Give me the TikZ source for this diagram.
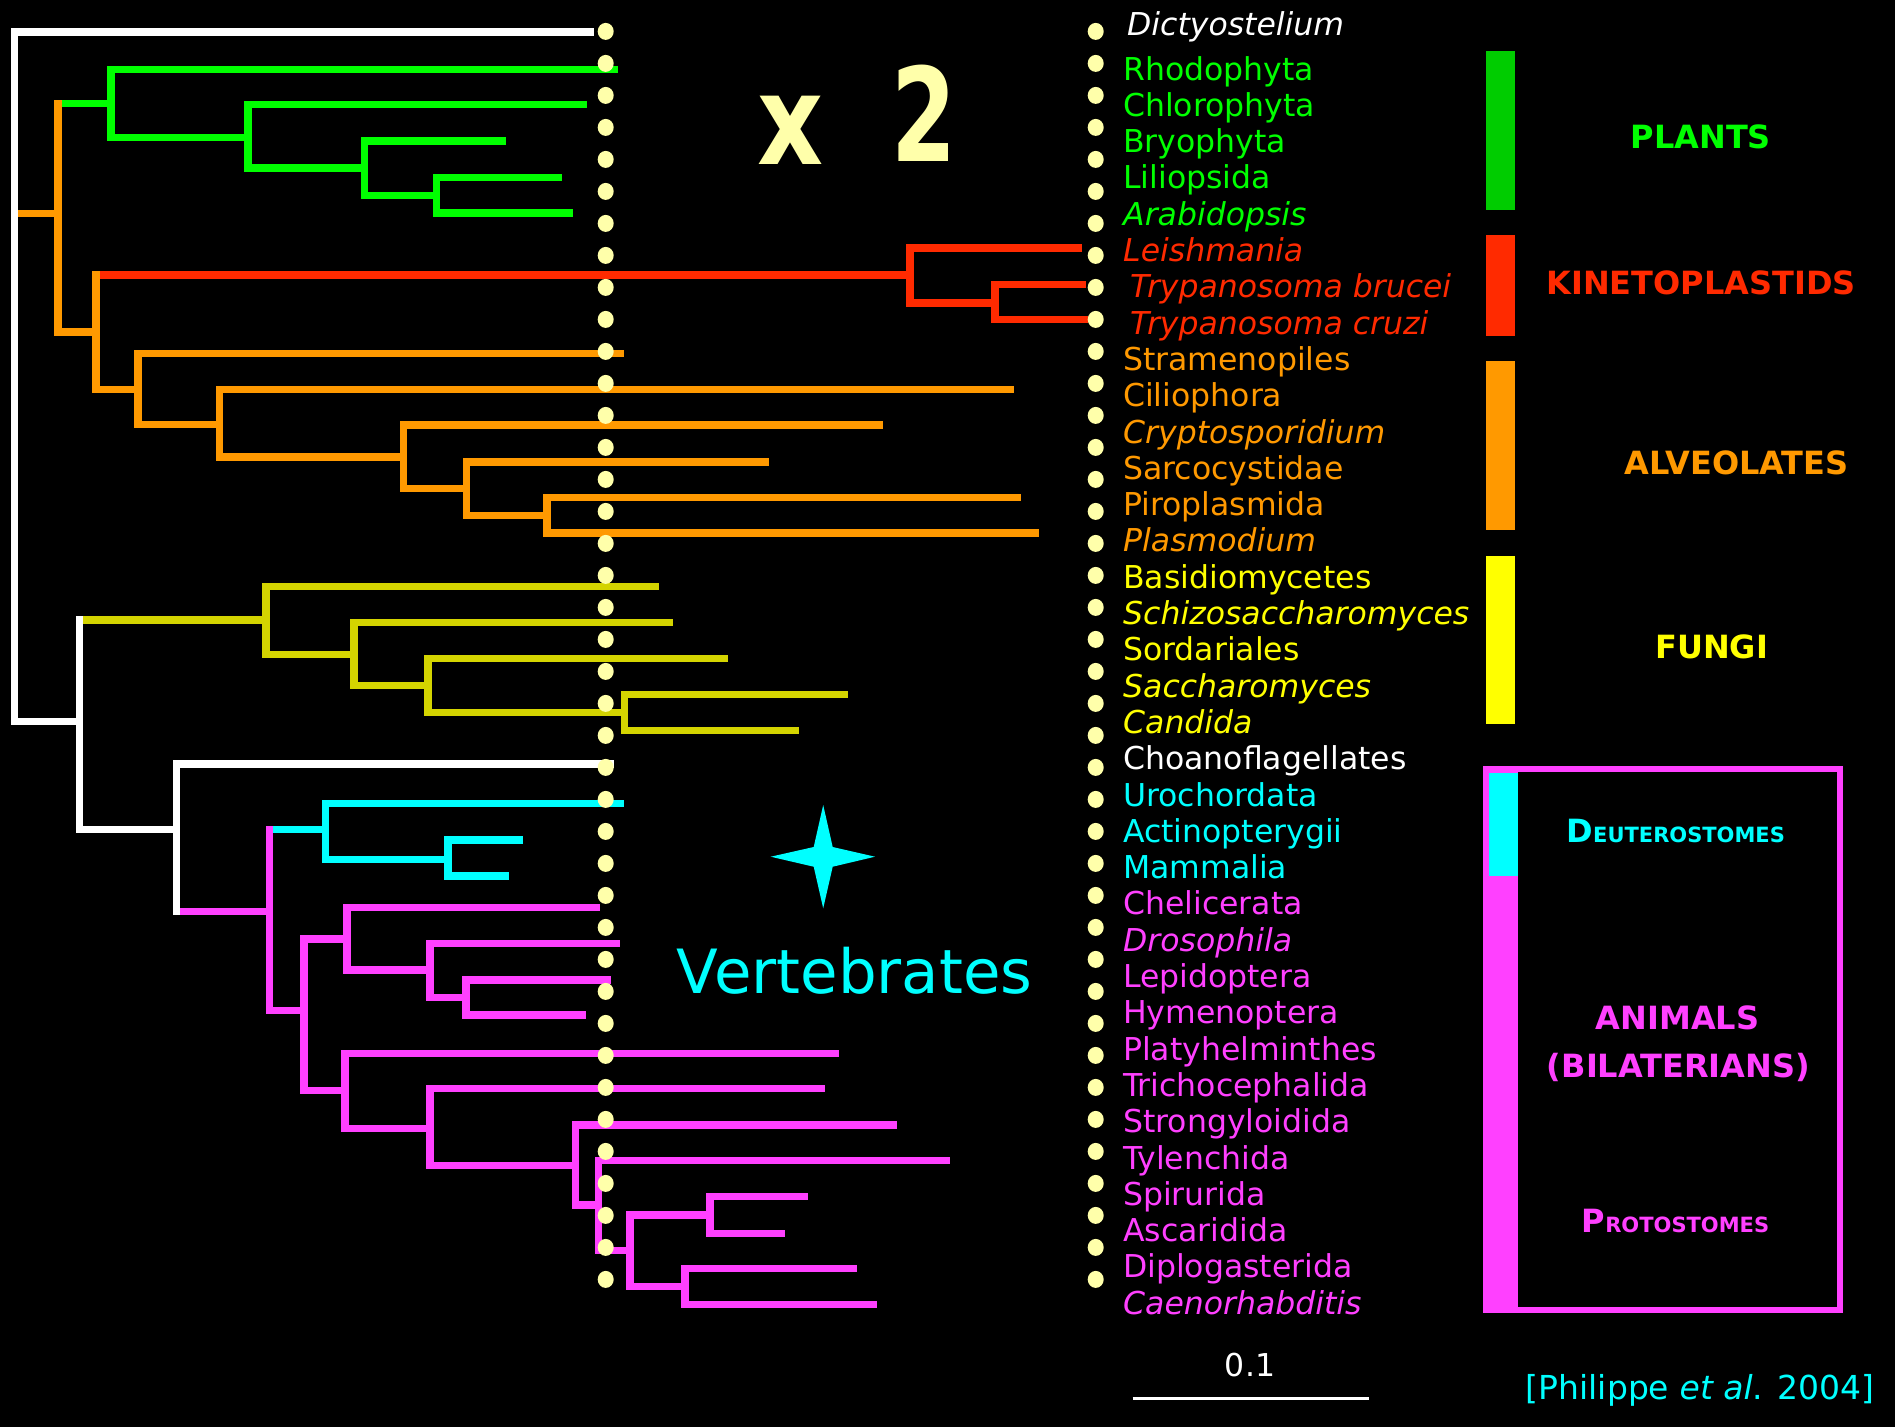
\documentclass[tikz,border=0pt]{standalone}
\usepackage{fontspec}
\usepackage{graphicx}
\setmainfont{DejaVu Sans}
\definecolor{colW}{HTML}{FFFFFF}
\definecolor{colG}{HTML}{00FF00}
\definecolor{colGbar}{HTML}{00CC00}
\definecolor{colR}{HTML}{FF2A00}
\definecolor{colO}{HTML}{FF9900}
\definecolor{colOl}{HTML}{D4D400}
\definecolor{colY}{HTML}{FFFF00}
\definecolor{colC}{HTML}{00FFFF}
\definecolor{colM}{HTML}{FF40FF}
\definecolor{colDot}{HTML}{FFFFAA}
\newcommand{\hbr}[3]{\draw[br,#1] (#2 |- #3) -- (#3);}
\newcommand{\vbr}[4]{\draw[vb,#1] (#2 |- #3) -- (#2 |- #4);}
\begin{document}
\begin{tikzpicture}[x=1pt,y=-1pt,
  br/.style={line width=7.5pt},
  vb/.style={line width=7.5pt, line cap=rect},
  lab/.style={anchor=base west, inner sep=0pt, font=\fontsize{31.5}{36}\selectfont},
  grp/.style={inner sep=0pt, font=\fontsize{32}{36}\selectfont\bfseries},
]
\fill[black] (0,0) rectangle (1895,1427);
\useasboundingbox (0,0) rectangle (1895,1427);

% ---------- internal nodes ----------
\coordinate (R) at (14.3,32.1);
\coordinate (A1) at (58,213.6);
\coordinate (G1) at (111,103.6);
\coordinate (G2) at (248,137.5);
\coordinate (G3) at (364.5,167.9);
\coordinate (G4) at (436.7,195.7);
\coordinate (A2) at (96,332);
\coordinate (K1) at (910,275);
\coordinate (K2) at (995,303);
\coordinate (A3) at (138,389.3);
\coordinate (A4) at (219.6,424.3);
\coordinate (A5) at (403.3,457);
\coordinate (A6) at (466.5,488.6);
\coordinate (A7) at (547,515.4);
\coordinate (W2) at (79.6,721.7);
\coordinate (F1) at (266,620);
\coordinate (F2) at (353.9,654.3);
\coordinate (F3) at (427.8,685.7);
\coordinate (F4) at (624.3,712.7);
\coordinate (W3) at (176.3,829.3);
\coordinate (M1) at (269.4,911.7);
\coordinate (C1) at (325.3,829.3);
\coordinate (C2) at (448.2,859.3);
\coordinate (M2) at (304,1010.7);
\coordinate (M3) at (347,939);
\coordinate (M4) at (429.8,970);
\coordinate (M5) at (466,997.3);
\coordinate (M6) at (345,1090.7);
\coordinate (M7) at (429.8,1128.3);
\coordinate (M8) at (575.5,1165.7);
\coordinate (M9) at (598.6,1205);
\coordinate (M10) at (630,1250.7);
\coordinate (M11) at (710,1215);
\coordinate (M12) at (685,1286.7);

% ---------- tips ----------
\coordinate (Dicty) at (594,32.1);
\coordinate (Rhodo) at (618,69.6);
\coordinate (Chloro) at (586.5,104.6);
\coordinate (Bryo) at (506,141);
\coordinate (Lilio) at (562,177.5);
\coordinate (Arab) at (573,213.2);
\coordinate (Leish) at (1082,248);
\coordinate (Tbru) at (1086,284.6);
\coordinate (Tcru) at (1088,319.6);
\coordinate (Stram) at (623.7,353.6);
\coordinate (Cilio) at (1014,389.3);
\coordinate (Crypto) at (882.9,425);
\coordinate (Sarco) at (769,461.8);
\coordinate (Piro) at (1020.7,497.5);
\coordinate (Plasmo) at (1038.6,533.2);
\coordinate (Basid) at (659.3,586.7);
\coordinate (Schizo) at (672.5,622.7);
\coordinate (Sord) at (727.9,658.3);
\coordinate (Sacch) at (847.5,694.3);
\coordinate (Cand) at (799.3,730.7);
\coordinate (Choano) at (614.3,764);
\coordinate (Uro) at (623.7,803.3);
\coordinate (Actino) at (523.3,840);
\coordinate (Mamm) at (509,876);
\coordinate (Chel) at (600,907.7);
\coordinate (Droso) at (620.4,943.3);
\coordinate (Lepi) at (611,980);
\coordinate (Hymen) at (585.7,1015);
\coordinate (Platy) at (838.6,1053.3);
\coordinate (Tricho) at (825.4,1088.7);
\coordinate (Strongy) at (896.8,1125);
\coordinate (Tylen) at (950.4,1160.7);
\coordinate (Spiru) at (807.9,1196.7);
\coordinate (Ascar) at (785,1233.3);
\coordinate (Diplo) at (857,1268.7);
\coordinate (Caeno) at (877,1304.7);

% ---------- horizontal branches ----------
\hbr{colW}{R}{Dicty} \hbr{colO}{R}{A1} \hbr{colW}{R}{W2}
\hbr{colG}{A1}{G1} \hbr{colO}{A1}{A2}
\hbr{colG}{G1}{Rhodo} \hbr{colG}{G1}{G2}
\hbr{colG}{G2}{Chloro} \hbr{colG}{G2}{G3}
\hbr{colG}{G3}{Bryo} \hbr{colG}{G3}{G4}
\hbr{colG}{G4}{Lilio} \hbr{colG}{G4}{Arab}
\hbr{colR}{A2}{K1} \hbr{colO}{A2}{A3}
\hbr{colR}{K1}{Leish} \hbr{colR}{K1}{K2}
\hbr{colR}{K2}{Tbru} \hbr{colR}{K2}{Tcru}
\hbr{colO}{A3}{Stram} \hbr{colO}{A3}{A4}
\hbr{colO}{A4}{Cilio} \hbr{colO}{A4}{A5}
\hbr{colO}{A5}{Crypto} \hbr{colO}{A5}{A6}
\hbr{colO}{A6}{Sarco} \hbr{colO}{A6}{A7}
\hbr{colO}{A7}{Piro} \hbr{colO}{A7}{Plasmo}
\hbr{colOl}{W2}{F1} \hbr{colW}{W2}{W3}
\hbr{colOl}{F1}{Basid} \hbr{colOl}{F1}{F2}
\hbr{colOl}{F2}{Schizo} \hbr{colOl}{F2}{F3}
\hbr{colOl}{F3}{Sord} \hbr{colOl}{F3}{F4}
\hbr{colOl}{F4}{Sacch} \hbr{colOl}{F4}{Cand}
\hbr{colW}{W3}{Choano} \hbr{colM}{W3}{M1}
\hbr{colC}{M1}{C1} \hbr{colM}{M1}{M2}
\hbr{colC}{C1}{Uro} \hbr{colC}{C1}{C2}
\hbr{colC}{C2}{Actino} \hbr{colC}{C2}{Mamm}
\hbr{colM}{M2}{M3} \hbr{colM}{M2}{M6}
\hbr{colM}{M3}{Chel} \hbr{colM}{M3}{M4}
\hbr{colM}{M4}{Droso} \hbr{colM}{M4}{M5}
\hbr{colM}{M5}{Lepi} \hbr{colM}{M5}{Hymen}
\hbr{colM}{M6}{Platy} \hbr{colM}{M6}{M7}
\hbr{colM}{M7}{Tricho} \hbr{colM}{M7}{M8}
\hbr{colM}{M8}{Strongy} \hbr{colM}{M8}{M9}
\hbr{colM}{M9}{Tylen} \hbr{colM}{M9}{M10}
\hbr{colM}{M10}{M11} \hbr{colM}{M10}{M12}
\hbr{colM}{M11}{Spiru} \hbr{colM}{M11}{Ascar}
\hbr{colM}{M12}{Diplo} \hbr{colM}{M12}{Caeno}

% ---------- vertical bars ----------
\vbr{colW}{R}{Dicty}{W2}
\vbr{colO}{A1}{G1}{A2}
\vbr{colG}{G1}{Rhodo}{G2}
\vbr{colG}{G2}{Chloro}{G3}
\vbr{colG}{G3}{Bryo}{G4}
\vbr{colG}{G4}{Lilio}{Arab}
\vbr{colO}{A2}{K1}{A3}
\vbr{colR}{K1}{Leish}{K2}
\vbr{colR}{K2}{Tbru}{Tcru}
\vbr{colO}{A3}{Stram}{A4}
\vbr{colO}{A4}{Cilio}{A5}
\vbr{colO}{A5}{Crypto}{A6}
\vbr{colO}{A6}{Sarco}{A7}
\vbr{colO}{A7}{Piro}{Plasmo}
\vbr{colW}{W2}{F1}{W3}
\vbr{colOl}{F1}{Basid}{F2}
\vbr{colOl}{F2}{Schizo}{F3}
\vbr{colOl}{F3}{Sord}{F4}
\vbr{colOl}{F4}{Sacch}{Cand}
\vbr{colW}{W3}{Choano}{M1}
\vbr{colM}{M1}{C1}{M2}
\vbr{colC}{C1}{Uro}{C2}
\vbr{colC}{C2}{Actino}{Mamm}
\vbr{colM}{M2}{M3}{M6}
\vbr{colM}{M3}{Chel}{M4}
\vbr{colM}{M4}{Droso}{M5}
\vbr{colM}{M5}{Lepi}{Hymen}
\vbr{colM}{M6}{Platy}{M7}
\vbr{colM}{M7}{Tricho}{M8}
\vbr{colM}{M8}{Strongy}{M9}
\vbr{colM}{M9}{Tylen}{M10}
\vbr{colM}{M10}{M11}{M12}
\vbr{colM}{M11}{Spiru}{Ascar}
\vbr{colM}{M12}{Diplo}{Caeno}

% ---------- dotted columns ----------
\foreach \k in {0,...,39} {
  \fill[colDot] (605.7,{31.4+32*\k}) ellipse (8 and 8.5);
  \fill[colDot] (1095.7,{31.4+32*\k}) ellipse (8 and 8.5);
}

% ---------- labels ----------
\node[lab,colW] (l0) at (1127,35.4) {\itshape Dictyostelium};
\node[lab,colG] (l1) at (1123,80) {Rhodophyta};
\node[lab,colG] (l2) at (1123,116.3) {Chlorophyta};
\node[lab,colG] (l3) at (1123,152.6) {Bryophyta};
\node[lab,colG] (l4) at (1123,188.9) {Liliopsida};
\node[lab,colG] (l5) at (1123,225.2) {\itshape Arabidopsis};
\node[lab,colR] (l6) at (1123,261.5) {\itshape Leishmania};
\node[lab,colR] (l7) at (1130,297.8) {\itshape Trypanosoma brucei};
\node[lab,colR] (l8) at (1130,334.1) {\itshape Trypanosoma cruzi};
\node[lab,colO] (l9) at (1123,370.4) {Stramenopiles};
\node[lab,colO] (l10) at (1123,406.7) {Ciliophora};
\node[lab,colO] (l11) at (1123,443) {\itshape Cryptosporidium};
\node[lab,colO] (l12) at (1123,479.3) {Sarcocystidae};
\node[lab,colO] (l13) at (1123,515.6) {Piroplasmida};
\node[lab,colO] (l14) at (1123,551.9) {\itshape Plasmodium};
\node[lab,colY] (l15) at (1123,588.2) {Basidiomycetes};
\node[lab,colY] (l16) at (1123,624.5) {\itshape Schizosaccharomyces};
\node[lab,colY] (l17) at (1123,660.8) {Sordariales};
\node[lab,colY] (l18) at (1123,697.1) {\itshape Saccharomyces};
\node[lab,colY] (l19) at (1123,733.4) {\itshape Candida};
\node[lab,colW] (l20) at (1123,769.7) {Choanoflagellates};
\node[lab,colC] (l21) at (1123,806) {Urochordata};
\node[lab,colC] (l22) at (1123,842.3) {Actinopterygii};
\node[lab,colC] (l23) at (1123,878.6) {Mammalia};
\node[lab,colM] (l24) at (1123,914.9) {Chelicerata};
\node[lab,colM] (l25) at (1123,951.2) {\itshape Drosophila};
\node[lab,colM] (l26) at (1123,987.5) {Lepidoptera};
\node[lab,colM] (l27) at (1123,1023.8) {Hymenoptera};
\node[lab,colM] (l28) at (1123,1060.1) {Platyhelminthes};
\node[lab,colM] (l29) at (1123,1096.4) {Trichocephalida};
\node[lab,colM] (l30) at (1123,1132.7) {Strongyloidida};
\node[lab,colM] (l31) at (1123,1169) {Tylenchida};
\node[lab,colM] (l32) at (1123,1205.3) {Spirurida};
\node[lab,colM] (l33) at (1123,1241.6) {Ascaridida};
\node[lab,colM] (l34) at (1123,1277.9) {Diplogasterida};
\node[lab,colM] (l35) at (1123,1314.2) {\itshape Caenorhabditis};

% ---------- group bars ----------
\fill[colGbar] (1486,51) rectangle (1515.3,210);
\fill[colR] (1486,235) rectangle (1515.3,335.5);
\fill[colO] (1486,361) rectangle (1515.3,530);
\fill[colY] (1486,555.5) rectangle (1515.3,723.5);
\node[grp,colG] (gPlants) at (1700.8,136.9) {PLANTS};
\node[grp,colR] (gKin) at (1701,283) {KINETOPLASTIDS};
\node[grp,colO] (gAlv) at (1736.7,462.5) {ALVEOLATES};
\node[grp,colY] (gFungi) at (1711.7,646.5) {FUNGI};

% ---------- animals box ----------
\fill[colM] (1483.3,766.4) rectangle (1517.7,1312.9);
\fill[colC] (1489.3,773.2) rectangle (1517.7,875.5);
\draw[colM,line width=6pt] (1486.3,769.4) rectangle (1840.3,1309.9);
\node[inner sep=0pt,colC,anchor=base] (gDeut) at (1675.8,842) {\bfseries{\fontsize{32}{36}\selectfont D}{\fontsize{21}{24}\selectfont EUTEROSTOMES}};
\node[grp,colM] (gAnim) at (1677.5,1017.6) {ANIMALS};
\node[grp,colM] (gBil) at (1678.5,1067) {(BILATERIANS)};
\node[inner sep=0pt,colM,anchor=base] (gProt) at (1675.5,1232) {\bfseries{\fontsize{32}{36}\selectfont P}{\fontsize{21}{24}\selectfont ROTOSTOMES}};

% ---------- extra texts ----------
\node[inner sep=0pt,anchor=base,colDot,font=\fontsize{125}{125}\selectfont\bfseries] (xx) at (791,164) {\scalebox{0.82}[1]{x}};
\node[inner sep=0pt,anchor=base,colDot,font=\fontsize{130}{130}\selectfont\bfseries] (two) at (924,161.4) {\scalebox{0.72}[1]{2}};
\fill[colC] (823.2,805) -- (832.7,847) -- (875,856.7) -- (832.7,866.7) -- (823.2,908.3) -- (813.7,866.7) -- (770.7,856.7) -- (813.7,847) -- cycle;
\node[inner sep=0pt,anchor=base,colC,font=\fontsize{61}{61}\selectfont] (vert) at (854.7,993.3) {Vertebrates};

% scale bar
\node[inner sep=0pt,colW,font=\fontsize{31.5}{36}\selectfont] (sc) at (1250,1364.7) {0.1};
\coordinate (sbL) at (1132.7,1398.5);
\coordinate (sbR) at (1369.3,1398.5);
\draw[colW,line width=3.6pt] (sbL) -- (sbR);

% citation
\node[inner sep=0pt,colC,font=\fontsize{33}{36}\selectfont] (cite) at (1700,1390) {[Philippe \textit{et al}. 2004]};
\end{tikzpicture}
\end{document}
